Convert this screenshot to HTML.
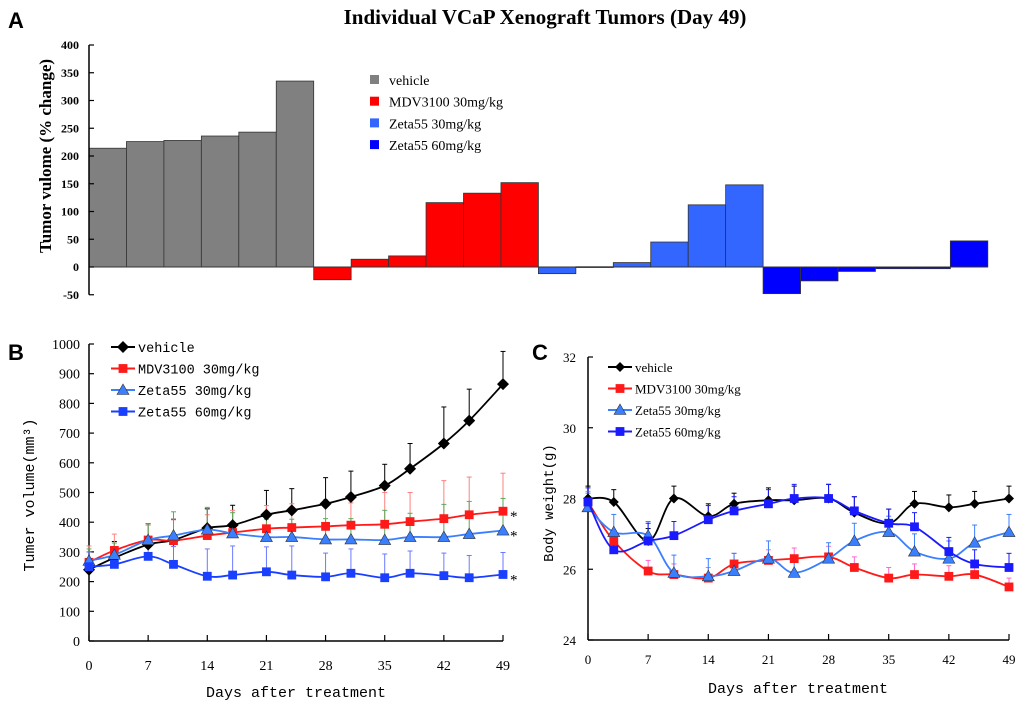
<!DOCTYPE html>
<html><head><meta charset="utf-8"><style>
body{margin:0;background:#fff;width:1020px;height:705px;overflow:hidden}
svg{display:block}
.serif{font-family:"Liberation Serif",serif}
.mono{font-family:"Liberation Mono",monospace}
.sans{font-family:"Liberation Sans",sans-serif}
</style></head><body>
<svg id="fig" width="1020" height="705" viewBox="0 0 1020 705">
<text x="8" y="28" class="sans" font-size="22" font-weight="bold">A</text>
<text x="545" y="24" class="serif" font-size="21" font-weight="bold" text-anchor="middle">Individual VCaP Xenograft Tumors (Day 49)</text>
<text x="8" y="360" class="sans" font-size="22" font-weight="bold">B</text>
<text x="532" y="360" class="sans" font-size="22" font-weight="bold">C</text>
<g id="pa"></g>
<g id="pb"></g>
<g id="pc"></g>
</svg>
<script>
// Panel A data
const aGroups = ["vehicle","MDV3100 30mg/kg","Zeta55 30mg/kg","Zeta55 60mg/kg"];
const aVehicle = [214,226,228,236,243,335];
const aMDV = [-23,14,20,116,133,152];
const aZ30 = [-12,0.5,8,45,112,148];
const aZ60 = [-48,-25,-8,-3,-3,47];
const aTicks = [400,350,300,250,200,150,100,50,0,-50];
// Panel B data
const days = [0,3,7,10,14,17,21,24,28,31,35,38,42,45,49];
const dayTicks = [0,7,14,21,28,35,42,49];
const bVehicle = [240,280,325,340,380,390,425,440,462,485,523,580,665,742,865];
const bVehicleErr = [60,55,70,70,65,67,82,73,88,87,72,85,123,106,110];
const bMDV = [265,305,340,338,355,365,378,382,386,390,393,402,412,425,437];
const bMDVErr = [55,55,50,70,70,75,78,80,90,75,107,98,128,127,128];
const bZ30 = [270,290,340,355,375,362,350,350,342,342,340,350,350,360,372];
const bZ30Err = [40,40,55,80,75,70,60,60,70,70,100,80,110,110,108];
const bZ60 = [250,258,285,258,218,222,233,222,216,228,213,228,220,213,224];
const bZ60Err = [50,60,60,60,92,98,84,98,80,82,80,75,76,75,74];
const bTicks = [0,100,200,300,400,500,600,700,800,900,1000];
// Panel C data
const cVehicle = [28.0,27.9,26.8,28.0,27.5,27.85,27.95,27.95,28.0,27.6,27.3,27.85,27.75,27.85,28.0];
const cVehicleErr = [0.35,0.35,0.35,0.35,0.35,0.3,0.35,0.4,0.4,0.45,0.4,0.35,0.35,0.35,0.35];
const cMDV = [27.9,26.8,25.95,25.85,25.75,26.15,26.25,26.3,26.35,26.05,25.75,25.85,25.8,25.85,25.5];
const cMDVErr = [0.3,0.3,0.3,0.3,0.3,0.3,0.3,0.3,0.3,0.3,0.3,0.3,0.3,0.3,0.25];
const cZ30 = [27.75,27.05,26.95,25.9,25.8,25.95,26.3,25.9,26.3,26.8,27.05,26.5,26.3,26.75,27.05];
const cZ30Err = [0.4,0.5,0.4,0.5,0.5,0.5,0.5,0.4,0.45,0.5,0.45,0.5,0.5,0.5,0.5];
const cZ60 = [27.9,26.55,26.8,26.95,27.4,27.65,27.85,28.0,28.0,27.65,27.3,27.2,26.5,26.15,26.05];
const cZ60Err = [0.4,0.4,0.5,0.4,0.4,0.4,0.4,0.4,0.4,0.4,0.4,0.4,0.4,0.4,0.4];
const cTicks = [24,26,28,30,32];

const NS="http://www.w3.org/2000/svg";
function mk(parent,tag,attrs,txt){const e=document.createElementNS(NS,tag);for(const k in attrs)e.setAttribute(k,attrs[k]);if(txt!==undefined)e.textContent=txt;parent.appendChild(e);return e;}

// ---- Panel A ----
(function(){
const g=document.getElementById('pa');
const x0=89, bw=37.45;
const ya=v=>267-v*0.555;
const series=[aVehicle,aMDV,aZ30,aZ60];
const cols=["#808080","#ff0000","#3366ff","#0000ff"];
let i=0;
series.forEach((s,si)=>{s.forEach(v=>{
 const y=Math.min(ya(v),ya(0)),h=Math.abs(ya(v)-ya(0));
 const r=mk(g,'rect',{x:x0+i*bw,y:y,width:bw,height:Math.max(h,0.8),fill:cols[si],stroke:"#333","stroke-width":0.8});
 
 
 i++;});});
mk(g,'line',{x1:x0,y1:ya(0),x2:x0+i*bw,y2:ya(0),stroke:"#333","stroke-width":1});
mk(g,'line',{x1:x0,y1:ya(400),x2:x0,y2:ya(-50),stroke:"#000","stroke-width":1.5});
aTicks.forEach(t=>{mk(g,'line',{x1:x0,y1:ya(t),x2:x0+5,y2:ya(t),stroke:"#000","stroke-width":1.2});
 const tx=mk(g,'text',{x:x0-10,y:ya(t)+4,"text-anchor":"end","font-size":12,"font-weight":"bold",class:"serif"},t);
 
 });
const yt=mk(g,'text',{transform:"translate(51,156) rotate(-90)","text-anchor":"middle","font-size":17,"font-weight":"bold",class:"serif"},"Tumor vulome (% change)");


aGroups.forEach((n,k)=>{const y=81+k*21.7;
 mk(g,'rect',{x:370,y:y-6,width:9,height:9,fill:cols[k]});
 const t=mk(g,'text',{x:389,y:y+4,"font-size":14,class:"serif"},n);
 
 });
})();

function marker(g,shape,x,y,col,s){
 if(shape==='diamond')mk(g,'polygon',{points:`${x},${y-s} ${x+s},${y} ${x},${y+s} ${x-s},${y}`,fill:col});
 else if(shape==='square')mk(g,'rect',{x:x-s*0.8,y:y-s*0.8,width:s*1.6,height:s*1.6,fill:col});
 else mk(g,'polygon',{points:`${x},${y-s} ${x+s},${y+s*0.75} ${x-s},${y+s*0.75}`,fill:col,stroke:"#333","stroke-width":0.6});
}
function smoothPath(pts){
 let d=`M${pts[0][0]},${pts[0][1]}`;
 for(let i=0;i<pts.length-1;i++){const p0=pts[i-1]||pts[i],p1=pts[i],p2=pts[i+1],p3=pts[i+2]||p2;
  const t=0.17;d+=` C${p1[0]+(p2[0]-p0[0])*t},${p1[1]+(p2[1]-p0[1])*t} ${p2[0]-(p3[0]-p1[0])*t},${p2[1]-(p3[1]-p1[1])*t} ${p2[0]},${p2[1]}`;}
 return d;}

function linePanel(g,cfg){
 const {xs,x0,x1,y0,y1,ticks,vmin,vmax,series,legend}=cfg;
 const X=d=>x0+(d/49)*(x1-x0);
 const Y=v=>y0-(v-vmin)/(vmax-vmin)*(y0-y1);
 mk(g,'line',{x1:x0,y1:y1,x2:x0,y2:y0,stroke:"#000","stroke-width":1.5});
 mk(g,'line',{x1:x0,y1:y0,x2:x1,y2:y0,stroke:"#000","stroke-width":1.5});
 ticks.forEach(t=>{mk(g,'line',{x1:x0,y1:Y(t),x2:x0+5,y2:Y(t),stroke:"#000","stroke-width":1.2});
  const tx=mk(g,'text',{x:x0-cfg.tickPad,y:Y(t)+5,"text-anchor":"end","font-size":cfg.tickFs,class:"serif"},t);
  
  });
 dayTicks.forEach(t=>{mk(g,'line',{x1:X(t),y1:y0,x2:X(t),y2:y0-6,stroke:"#000","stroke-width":1.2});
  const tx=mk(g,'text',{x:X(t),y:y0+cfg.xlPad,"text-anchor":"middle","font-size":cfg.tickFs,class:"serif"},t);
  
  });
 series.forEach(s=>{
  s.vals.forEach((v,i)=>{mk(g,'line',{x1:X(xs[i]),y1:Y(v),x2:X(xs[i]),y2:Y(v+s.err[i]),stroke:s.ecol,"stroke-width":1});
   mk(g,'line',{x1:X(xs[i])-2.5,y1:Y(v+s.err[i]),x2:X(xs[i])+2.5,y2:Y(v+s.err[i]),stroke:s.ecol,"stroke-width":1});});
 });
 series.forEach(s=>{
  const pts=s.vals.map((v,i)=>[X(xs[i]),Y(v)]);
  const p=mk(g,'path',{d:smoothPath(pts),fill:"none",stroke:s.col,"stroke-width":1.8});
  
  
  pts.forEach(q=>marker(g,s.shape,q[0],q[1],s.col,s.ms));
 });
 series.forEach((s,k)=>{const ly=legend.y+k*legend.dy;
  mk(g,'line',{x1:legend.x,y1:ly,x2:legend.x+24,y2:ly,stroke:s.col,"stroke-width":2});
  marker(g,s.shape,legend.x+12,ly,s.col,s.ms);
  const t=mk(g,'text',{x:legend.x+27,y:ly+5,"font-size":legend.fs,class:legend.cls},s.name);
  
  });
 return {X,Y};
}

// ---- Panel B ----
(function(){
const g=document.getElementById('pb');
const r=linePanel(g,{xs:days,x0:89,x1:503,y0:641,y1:344,ticks:bTicks,vmin:0,vmax:1000,tickPad:9,tickFs:14,xlPad:29,
 legend:{x:111,y:347,dy:21.5,fs:13.5,cls:"mono"},
 series:[
 {name:"vehicle",vals:bVehicle,err:bVehicleErr,col:"#000",ecol:"#000",shape:"diamond",ms:6},
 {name:"MDV3100 30mg/kg",vals:bMDV,err:bMDVErr,col:"#ff1a1a",ecol:"#ff8080",shape:"square",ms:5.5},
 {name:"Zeta55 30mg/kg",vals:bZ30,err:bZ30Err,col:"#3a7fff",ecol:"#5aaa5a",shape:"tri",ms:6},
 {name:"Zeta55 60mg/kg",vals:bZ60,err:bZ60Err,col:"#1a3fff",ecol:"#6a7aff",shape:"square",ms:5.5}]});
[bMDV,bZ30,bZ60].forEach(s=>{const t=mk(g,'text',{x:510,y:r.Y(s[s.length-1])+10,"font-size":15,class:"serif"},"*");
 
 });
const yt=mk(g,'text',{transform:"translate(34,495) rotate(-90)","text-anchor":"middle","font-size":15,class:"mono"},"Tumer volume(mm³)");


const xt=mk(g,'text',{x:296,y:697,"text-anchor":"middle","font-size":15,class:"mono"},"Days after treatment");


})();

// ---- Panel C ----
(function(){
const g=document.getElementById('pc');
linePanel(g,{xs:days,x0:588,x1:1009,y0:640,y1:357,ticks:cTicks,vmin:24,vmax:32,tickPad:12,tickFs:13,xlPad:24,
 legend:{x:608,y:367,dy:21.5,fs:13,cls:"serif"},
 series:[
 {name:"vehicle",vals:cVehicle,err:cVehicleErr,col:"#000",ecol:"#000",shape:"diamond",ms:5},
 {name:"MDV3100 30mg/kg",vals:cMDV,err:cMDVErr,col:"#ff1a1a",ecol:"#ff66cc",shape:"square",ms:5.5},
 {name:"Zeta55 30mg/kg",vals:cZ30,err:cZ30Err,col:"#3a7fff",ecol:"#3a7fff",shape:"tri",ms:6},
 {name:"Zeta55 60mg/kg",vals:cZ60,err:cZ60Err,col:"#1a1aff",ecol:"#1a1aff",shape:"square",ms:5.5}]});
const yt=mk(g,'text',{transform:"translate(553,503) rotate(-90)","text-anchor":"middle","font-size":14,class:"mono"},"Body weight(g)");


const xt=mk(g,'text',{x:798,y:693,"text-anchor":"middle","font-size":15,class:"mono"},"Days after treatment");


})();
</script>
</body></html>
